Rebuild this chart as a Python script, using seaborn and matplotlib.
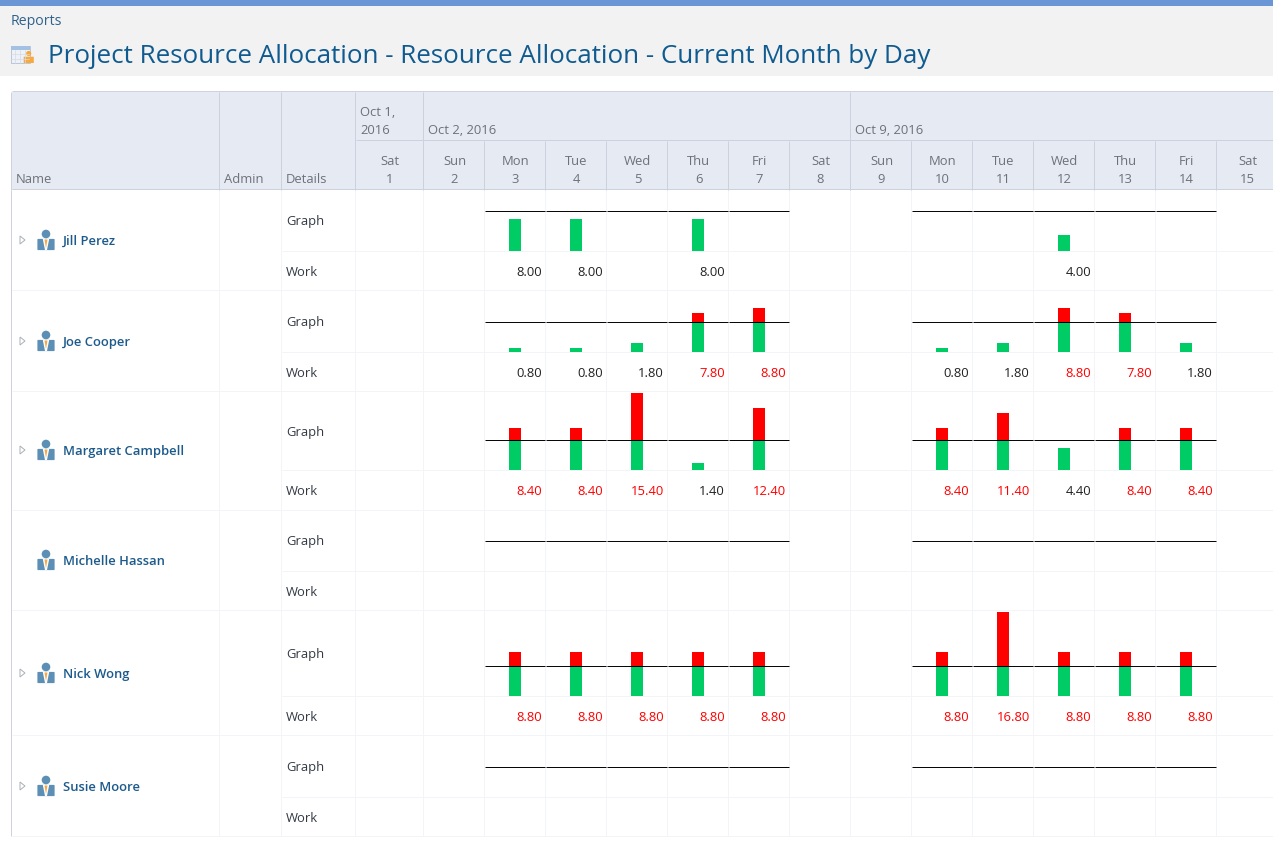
import numpy as np
import pandas as pd
import matplotlib
matplotlib.use("Agg")
import matplotlib.pyplot as plt
from matplotlib.patches import Circle, FancyBboxPatch, Polygon, Rectangle
import seaborn as sns

sns.set_theme(style="white")
plt.rcParams["font.family"] = ["Open Sans", "DejaVu Sans"]

nan = np.nan
title = "Project Resource Allocation - Resource Allocation - Current Month by Day"
breadcrumb = "Reports"
weekdays = ["Sun", "Mon", "Tue", "Wed", "Thu", "Fri", "Sat"] * 2
day_numbers = list(range(2, 16))
people = ["Jill Perez", "Joe Cooper", "Margaret Campbell", "Michelle Hassan", "Nick Wong", "Susie Moore"]
expandable = [True, True, True, False, True, True]
capacity = [10, 6, 6, 6, 6, 6]
axis_max = [15.25, 12.2, 15.8, 12.2, 17.2, 12.2]

jill = [nan, 8.0, 8.0, nan, 8.0, nan, nan, nan, nan, nan, 4.0, nan, nan, nan]
joe = [nan, 0.8, 0.8, 1.8, 7.8, 8.8, nan, nan, 0.8, 1.8, 8.8, 7.8, 1.8, nan]
margaret = [nan, 8.4, 8.4, 15.4, 1.4, 12.4, nan, nan, 8.4, 11.4, 4.4, 8.4, 8.4, nan]
michelle = [nan] * 14
nick = [nan, 8.8, 8.8, 8.8, 8.8, 8.8, nan, nan, 8.8, 16.8, 8.8, 8.8, 8.8, nan]
susie = [nan] * 14
work = [jill, joe, margaret, michelle, nick, susie]

# layout in pixels
W, H = 1273, 850
row_tops = [190, 290.5, 391.5, 510, 610.5, 735.5, 836]
row_divs = [251.5, 352.5, 470.5, 571.5, 696.5, 797.5]
graph_base = [225, 326, 436, 545, 658, 771]
work_base = [276, 377, 495, 596, 721, 822]
name_base = [245, 346, 455, 565, 678, 791]
col_first = 423.5
col_w = 61.0
LW = 0.7

HEAD = "#e6eaf3"
EDGE = "#cdd1de"
FAINT = "#f3f4f7"
GREY = "#6e7178"
NAVY = "#1c5a8c"
GREEN = "#00cc66"
RED = "#ff0000"
BLUE = "#5b8fb5"
ORANGE = "#f7a940"

fig = plt.figure(figsize=(W / 100, H / 100), dpi=100, facecolor="white")
bg = fig.add_axes([0, 0, 1, 1])
bg.set_xlim(0, W)
bg.set_ylim(H, 0)
bg.axis("off")


def hline(x0, x1, y, color, zorder=2):
    bg.plot([x0, x1], [y, y], color=color, lw=LW, zorder=zorder, solid_capstyle="butt")


def vline(x, y0, y1, color, zorder=2):
    bg.plot([x - 0.5, x - 0.5], [y0, y1], color=color, lw=LW, zorder=zorder, solid_capstyle="butt")


# page chrome
bg.add_patch(Rectangle((0, 0), W, 76, fc="#f2f2f2", ec="none"))
bg.add_patch(Rectangle((0, 0), W, 6, fc="#6a96d5", ec="none"))
bg.text(11, 25, breadcrumb, fontsize=10.2, color="#2f628c", va="baseline")
bg.text(48, 63, title, fontsize=18.7, color="#0f5a8f", va="baseline")

# calendar icon
bg.add_patch(Rectangle((10.5, 46), 19.5, 17, fc="#eef2f7", ec="#b9c6d6", lw=0.7))
bg.add_patch(Rectangle((10.5, 46), 19.5, 3.5, fc="#a3c1e2", ec="none"))
for gx in (15, 20, 25):
    bg.plot([gx, gx], [50, 63], color="#d3dbe6", lw=0.5)
for gy in (54, 58.5):
    bg.plot([11, 29], [gy, gy], color="#d3dbe6", lw=0.5)
bg.add_patch(Circle((28.7, 53.5), 2.6, fc=ORANGE, ec="none"))
bg.add_patch(FancyBboxPatch((24, 57), 9.5, 5.7, boxstyle="round,pad=0.3", fc=ORANGE, ec="none"))


def person_icon(cy):
    bg.add_patch(Circle((46, cy - 6), 4.3, fc=BLUE, ec="none"))
    bg.add_patch(FancyBboxPatch((38.2, cy - 0.3), 15.6, 9.6, boxstyle="round,pad=0.8", fc=BLUE, ec="none"))
    bg.add_patch(Polygon([[42.8, cy - 1], [49.2, cy - 1], [47, cy + 10], [45, cy + 10]], fc="white", ec="none"))
    bg.add_patch(Polygon([[44.5, cy - 0.5], [47.5, cy - 0.5], [46, cy + 8]], fc=ORANGE, ec="none"))


# header
bg.add_patch(Rectangle((11.5, 91.5), W, 98, fc=HEAD, ec="none"))
columns = [11.5, 219.5, 281.5, 355.5, 423.5]
month_lines = [col_first + 7 * col_w]
hline(11.5, W, 91, EDGE)
hline(11.5, W, 189, EDGE)
hline(355.5, W, 140, EDGE)
for x in columns + month_lines:
    vline(x, 91.5, 189.5, EDGE)
for i in range(1, 14):
    vline(col_first + i * col_w, 140.5, 189.5, EDGE)

head_kw = dict(fontsize=9.4, color=GREY, va="baseline")
bg.text(16, 183, "Name", **head_kw)
bg.text(224, 183, "Admin", **head_kw)
bg.text(286, 183, "Details", **head_kw)
bg.text(360, 116, "Oct 1,", **head_kw)
bg.text(360, 134, "2016", **head_kw)
bg.text(428, 134, "Oct 2, 2016", **head_kw)
bg.text(855, 134, "Oct 9, 2016", **head_kw)
bg.text(390, 165, "Sat", ha="center", **head_kw)
bg.text(390, 183, "1", ha="center", **head_kw)
for i, (wd, dn) in enumerate(zip(weekdays, day_numbers)):
    cx = col_first + (i + 0.5) * col_w + 0.5
    bg.text(cx, 165, wd, ha="center", **head_kw)
    bg.text(cx, 183, str(dn), ha="center", **head_kw)

# body grid
for x in columns[1:] + [col_first + i * col_w for i in range(1, 14)]:
    vline(x, 190, 836, FAINT, zorder=1)
for y in row_tops[1:]:
    hline(11.5, W, y - 0.5, FAINT, zorder=1)
for y in row_divs:
    hline(281.5, W, y - 0.5, FAINT, zorder=1)
vline(11.5, 190, 836, EDGE, zorder=1)

# rows
for r, person in enumerate(people):
    values = np.array(work[r], dtype=float)
    cap = capacity[r]
    bg.text(286, graph_base[r], "Graph", fontsize=9.4, color="#333a44", va="baseline")
    bg.text(286, work_base[r], "Work", fontsize=9.4, color="#333a44", va="baseline")
    bg.text(63, name_base[r], person, fontsize=9.4, color=NAVY, weight="semibold", va="baseline")
    person_icon(name_base[r] - 5)
    if expandable[r]:
        c = name_base[r] - 5
        bg.add_patch(Polygon([[20, c - 4], [25, c], [20, c + 4]], fc="white", ec="#aab0b8", lw=0.7))

    # chart axes over Sun 2 .. Sat 15
    top, bottom = row_tops[r], row_divs[r] - 0.5
    ax = fig.add_axes([col_first / W, 1 - bottom / H, 14 * col_w / W, (bottom - top) / H])
    ax.patch.set_alpha(0)
    frame = pd.DataFrame({
        "day": [str(d) for d in day_numbers],
        "total": values,
        "within": np.minimum(values, cap),
    })
    order = frame["day"].tolist()
    bar_w = 12 / col_w
    sns.barplot(data=frame, x="day", y="total", order=order, color=RED, saturation=1,
                width=bar_w, errorbar=None, linewidth=0, ax=ax)
    sns.barplot(data=frame, x="day", y="within", order=order, color=GREEN, saturation=1,
                width=bar_w, errorbar=None, linewidth=0, ax=ax)
    for i, wd in enumerate(weekdays):
        if wd not in ("Sat", "Sun"):
            ax.hlines(cap, i - 0.49, i + 0.485, color="black", lw=LW, zorder=5)
    ax.set_xlim(-0.5, 13.5)
    ax.set_ylim(0, axis_max[r])
    ax.axis("off")

    # work values
    for i, v in enumerate(values):
        if not np.isnan(v):
            bg.text(col_first + (i + 1) * col_w - 3.5, work_base[r], f"{v:.2f}",
                    ha="right", va="baseline", fontsize=9.4,
                    color=RED if v > cap else "#222222")

fig.savefig("out.png", dpi=100, facecolor="white")
